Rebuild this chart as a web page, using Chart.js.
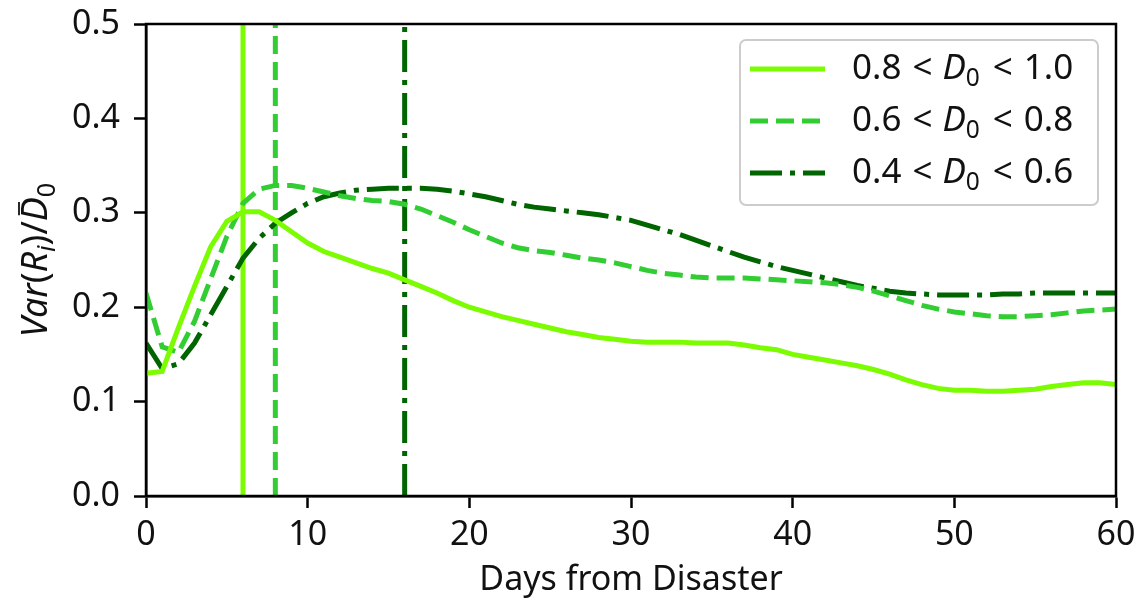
<!DOCTYPE html>
<html lang="en">
<head>
<meta charset="UTF-8">
<title>Var(R_i)/D0 by days from disaster</title>
<script src="https://cdn.jsdelivr.net/npm/chart.js"></script>
<style>
  html, body { margin: 0; padding: 0; background: #fff; }
</style>
</head>
<body>
<canvas id="myChart" width="1141" height="603"></canvas>
<script>
// dias desde o desastre
const days = [0, 1, 2, 3, 4, 5, 6, 7, 8, 9, 10, 11, 12, 13, 14, 15, 16, 17, 18, 19, 20,
  21, 22, 23, 24, 25, 26, 27, 28, 29, 30, 31, 32, 33, 34, 35, 36, 37, 38, 39, 40,
  41, 42, 43, 44, 45, 46, 47, 48, 49, 50, 51, 52, 53, 54, 55, 56, 57, 58, 59, 60];

// 0.8 < D0 < 1.0
const high = [0.130, 0.132, 0.178, 0.222, 0.264, 0.291, 0.301, 0.301, 0.292, 0.280, 0.268,
  0.259, 0.253, 0.247, 0.241, 0.236, 0.229, 0.222, 0.215, 0.207, 0.200,
  0.195, 0.190, 0.186, 0.182, 0.178, 0.174, 0.171, 0.168, 0.166, 0.164,
  0.163, 0.163, 0.163, 0.162, 0.162, 0.162, 0.160, 0.157, 0.155, 0.150,
  0.147, 0.144, 0.141, 0.138, 0.134, 0.129, 0.123, 0.118, 0.114, 0.112,
  0.112, 0.111, 0.111, 0.112, 0.113, 0.116, 0.118, 0.120, 0.120, 0.118];

// 0.6 < D0 < 0.8
const mid = [0.215, 0.158, 0.152, 0.185, 0.230, 0.275, 0.310, 0.325, 0.329, 0.329, 0.326,
  0.322, 0.318, 0.315, 0.313, 0.312, 0.309, 0.304, 0.297, 0.290, 0.282,
  0.275, 0.268, 0.263, 0.260, 0.258, 0.255, 0.252, 0.250, 0.247, 0.243,
  0.239, 0.236, 0.234, 0.232, 0.231, 0.231, 0.231, 0.230, 0.229, 0.228,
  0.227, 0.226, 0.224, 0.221, 0.217, 0.212, 0.207, 0.202, 0.198, 0.195,
  0.193, 0.191, 0.190, 0.190, 0.191, 0.192, 0.194, 0.196, 0.197, 0.198];

// 0.4 < D0 < 0.6
const low = [0.162, 0.135, 0.140, 0.162, 0.192, 0.222, 0.252, 0.273, 0.289, 0.300, 0.310,
  0.317, 0.321, 0.324, 0.325, 0.326, 0.326, 0.326, 0.325, 0.323, 0.320,
  0.317, 0.313, 0.309, 0.306, 0.304, 0.302, 0.300, 0.298, 0.295, 0.292,
  0.287, 0.282, 0.277, 0.271, 0.265, 0.259, 0.253, 0.248, 0.243, 0.239,
  0.235, 0.231, 0.227, 0.223, 0.220, 0.217, 0.215, 0.214, 0.213, 0.213,
  0.213, 0.213, 0.214, 0.214, 0.215, 0.215, 0.215, 0.215, 0.215, 0.215];

// linhas verticais (pico de cada grupo)
const peakDays = [6, 8, 16];
const legendLabels = [['0.8', '1.0'], ['0.6', '0.8'], ['0.4', '0.6']];
const xTicks = [0, 10, 20, 30, 40, 50, 60];
const yTicks = [0.0, 0.1, 0.2, 0.3, 0.4, 0.5];

const cores = ['#7cfc00', '#32cd32', '#006400'];
const tracos = [[], [18, 8], [32, 8, 5, 8]];
const FONTE = '"Noto Sans", "Open Sans", sans-serif';

function pontos(serie) {
  let out = [];
  for (let i = 0; i < days.length; i++) out.push({ x: days[i], y: serie[i] });
  return out;
}

let datasets = [];
[high, mid, low].forEach(function (serie, k) {
  datasets.push({
    data: pontos(serie), borderColor: cores[k], borderWidth: 5, borderDash: tracos[k],
    pointRadius: 0, tension: 0, fill: false, borderCapStyle: 'butt'
  });
});
peakDays.forEach(function (d, k) {
  datasets.push({
    data: [{ x: d, y: yTicks[0] }, { x: d, y: yTicks[yTicks.length - 1] }],
    borderColor: cores[k], borderWidth: 5, borderDash: tracos[k],
    pointRadius: 0, fill: false, borderCapStyle: 'butt'
  });
});

// texto com italico e subscrito; numero sozinho = espaco extra
function fontePara(estilo, size) {
  let s = (estilo === 'sub' || estilo === 'isub') ? size * 0.7 : size;
  let it = (estilo === 'i' || estilo === 'isub') ? 'italic ' : '';
  return it + s + 'px ' + FONTE;
}
function largura(ctx, p, size) {
  if (typeof p[0] === 'number') return p[0];
  ctx.font = fontePara(p[1], size);
  return ctx.measureText(p[0]).width;
}
function desenhaRico(ctx, partes, x, y, size, centro) {
  let total = 0;
  partes.forEach(p => total += largura(ctx, p, size));
  let cx = centro ? x - total / 2 : x;
  ctx.textBaseline = 'middle';
  ctx.textAlign = 'left';
  partes.forEach(function (p) {
    let w = largura(ctx, p, size);
    if (typeof p[0] !== 'number') {
      ctx.font = fontePara(p[1], size);
      let dy = (p[1] === 'sub' || p[1] === 'isub') ? size * 0.3 : 0;
      ctx.fillText(p[0], cx, y + dy);
      if (p[2] === 'bar') {
        ctx.save();
        ctx.lineWidth = 1.8;
        ctx.beginPath();
        ctx.moveTo(cx + w * 0.25, y - size * 0.5);
        ctx.lineTo(cx + w * 0.8, y - size * 0.5);
        ctx.stroke();
        ctx.restore();
      }
    }
    cx += w;
  });
}

const extras = {
  id: 'extras',
  afterDatasetsDraw(chart) {
    const ctx = chart.ctx;
    const a = chart.chartArea;
    ctx.save();
    ctx.strokeStyle = '#000';
    ctx.lineWidth = 2.5;
    ctx.strokeRect(a.left, a.top, a.right - a.left, a.bottom - a.top);

    // legenda
    ctx.fillStyle = '#fff';
    ctx.strokeStyle = '#cccccc';
    ctx.lineWidth = 2;
    ctx.beginPath();
    ctx.roundRect(740, 40, 358, 165, 6);
    ctx.fill();
    ctx.stroke();
    for (let k = 0; k < 3; k++) {
      let yy = 69 + k * 52;
      ctx.strokeStyle = cores[k];
      ctx.lineWidth = 5;
      ctx.setLineDash(tracos[k]);
      ctx.beginPath();
      ctx.moveTo(750, yy);
      ctx.lineTo(825, yy);
      ctx.stroke();
      ctx.setLineDash([]);
      ctx.fillStyle = '#111';
      ctx.strokeStyle = '#111';
      desenhaRico(ctx, [[legendLabels[k][0], ''], [11], ['<', ''], [10], ['D', 'i'], ['0', 'sub'], [13], ['<', ''], [11], [legendLabels[k][1], '']], 852, yy, 35, false);
    }

    // titulo eixo y
    ctx.translate(37, 260);
    ctx.rotate(-Math.PI / 2);
    ctx.fillStyle = '#111';
    ctx.strokeStyle = '#111';
    desenhaRico(ctx, [['Var', 'i'], ['(', ''], ['R', 'i'], ['i', 'isub'], [')/', ''], ['D', 'i', 'bar'], ['0', 'sub']], 0, 0, 36, true);
    ctx.restore();
  }
};

new Chart(document.getElementById('myChart'), {
  type: 'line',
  data: { datasets: datasets },
  options: {
    responsive: false,
    animation: false,
    layout: { padding: { top: 24, right: 25, left: 0, bottom: 0 } },
    plugins: { legend: { display: false }, tooltip: { enabled: false } },
    scales: {
      x: {
        type: 'linear', min: 0, max: 60,
        afterFit(s) { s.height = 107; s.paddingLeft = 0; s.paddingRight = 0; },
        afterBuildTicks(s) { s.ticks = xTicks.map(v => ({ value: v })); },
        grid: { drawOnChartArea: false, drawTicks: true, tickLength: 12, tickWidth: 2.5, color: '#000' },
        border: { display: true, color: '#000', width: 2.5 },
        ticks: { color: '#111', font: { family: FONTE, size: 34 }, padding: 7, maxRotation: 0 },
        title: { display: true, text: 'Days from Disaster', color: '#111', font: { family: FONTE, size: 34 }, padding: { top: 0, bottom: 2 } }
      },
      y: {
        min: 0, max: 0.5,
        afterFit(s) { s.width = 146; s.paddingTop = 0; s.paddingBottom = 0; },
        afterBuildTicks(s) { s.ticks = yTicks.map(v => ({ value: v })); },
        grid: { drawOnChartArea: false, drawTicks: true, tickLength: 12, tickWidth: 2.5, color: '#000' },
        border: { display: true, color: '#000', width: 2.5 },
        ticks: { color: '#111', font: { family: FONTE, size: 34 }, padding: 14, callback: v => v.toFixed(1) }
      }
    }
  },
  plugins: [extras]
});
</script>
</body>
</html>
